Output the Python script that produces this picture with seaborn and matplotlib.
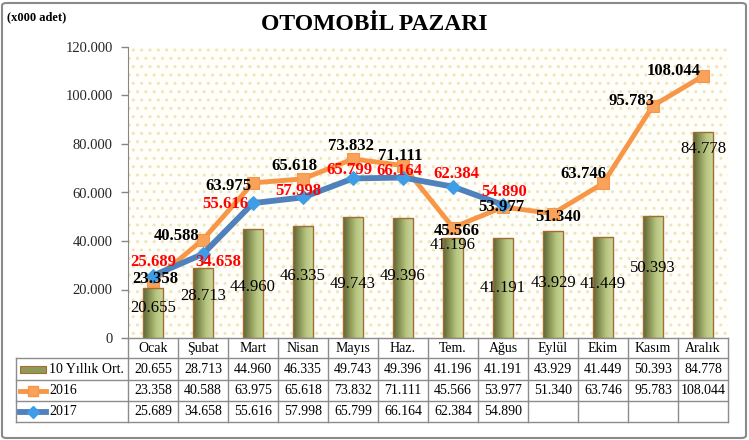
import numpy as np
import matplotlib
matplotlib.use("Agg")
import matplotlib.pyplot as plt
import matplotlib.transforms as mtransforms
import seaborn as sns
from matplotlib.patches import Rectangle, FancyBboxPatch
from matplotlib.lines import Line2D
from matplotlib.colors import LinearSegmentedColormap

# ---------------- data ----------------
months = ["Ocak", "Şubat", "Mart", "Nisan", "Mayıs", "Haz.", "Tem.", "Ağus",
          "Eylül", "Ekim", "Kasım", "Aralık"]
avg10 = [20.655, 28.713, 44.960, 46.335, 49.743, 49.396, 41.196, 41.191,
         43.929, 41.449, 50.393, 84.778]
y2016 = [23.358, 40.588, 63.975, 65.618, 73.832, 71.111, 45.566, 53.977,
         51.340, 63.746, 95.783, 108.044]
y2017 = [25.689, 34.658, 55.616, 57.998, 65.799, 66.164, 62.384, 54.890]
series_names = ["10 Yıllık Ort.", "2016", "2017"]
yticks = [0, 20, 40, 60, 80, 100, 120]
title = "OTOMOBİL PAZARI"
unit_label = "(x000 adet)"

# label placement (pixel offsets / fractions) - styling only
bar_label_frac = [0.6, 0.6, 0.47, 0.55, 0.45, 0.52, 0.93, 0.5, 0.52, 0.54, 0.57, 0.92]
off2016 = [(2, 2), (-26, 4), (-25, -3), (-9, 13), (-2, 13), (-3, 10), (4, -3), (-2, 0),
           (5, -3), (-20, 9), (-21, 5), (-29, 5)]
off2017 = [(0, 14), (15, -8), (-28, -1), (-5, 6), (-4, 8), (-4, 7), (3, 13), (1, 13)]

def fmt(v):
    return "0" if v == 0 else f"{v:.3f}"

W, H = 749, 440
plt.rcParams["font.family"] = ["Liberation Serif", "DejaVu Serif"]
plt.rcParams["hatch.linewidth"] = 1.0
fig = plt.figure(figsize=(W / 100, H / 100), dpi=100)
fig.patch.set_facecolor("white")

def fy(py):
    return (H - py) / H

x_left, x_right, y_top, y_bot = 128, 728, 47, 338
ax = fig.add_axes([x_left / W, fy(y_bot), (x_right - x_left) / W, (y_bot - y_top) / H])
ax.set_facecolor("#fffef9")
ax.add_patch(Rectangle((0, 0), 1, 1, transform=ax.transAxes, hatch="..",
                       fill=False, edgecolor="#ece5bd", lw=0, zorder=0))

# bars
sns.barplot(x=months, y=avg10, order=months, width=0.4, color="#9aa563",
            edgecolor="#a36d30", linewidth=1.0, ax=ax, zorder=2)
cmap = LinearSegmentedColormap.from_list("olive", ["#5c6236", "#8a9556", "#b6c680", "#c9d69a"])
grad = np.linspace(0, 1, 64).reshape(1, -1)
for p in list(ax.patches):
    if not isinstance(p, Rectangle) or p.get_height() <= 0 or p.get_width() >= 1:
        continue
    x0, y0 = p.get_x(), p.get_y()
    im = ax.imshow(grad, extent=[x0, x0 + p.get_width(), y0, y0 + p.get_height()],
                   cmap=cmap, aspect="auto", zorder=2.1, interpolation="bilinear")
    im.set_clip_path(p)
    p.set_facecolor("none")
    p.set_zorder(2.2)

xs16 = np.arange(len(y2016))
xs17 = np.arange(len(y2017))
sns.lineplot(x=xs16, y=y2016, color="#f79646", lw=3.5, marker="s", markersize=8,
             markerfacecolor="#f9a25c", markeredgecolor="#f79646", sort=False, ax=ax, zorder=3)
sns.lineplot(x=xs17, y=y2017, color="#4f81bd", lw=4.2, marker="D", markersize=7,
             markerfacecolor="#3f9ce6", markeredgecolor="#3f9ce6", sort=False, ax=ax, zorder=4)

ax.set_xlim(-0.5, len(months) - 0.5)
ax.set_ylim(0, 120)
ax.set_yticks(yticks)
ax.set_yticklabels([fmt(t) for t in yticks], fontsize=10.5, color="#262626")
ax.set_xticks([])
ax.set_xlabel("")
ax.set_ylabel("")
for s in ["top", "right", "bottom"]:
    ax.spines[s].set_visible(False)
ax.spines["left"].set_color("#868686")
ax.tick_params(axis="y", direction="out", length=5, width=1, color="#868686", pad=6)
ax.grid(False)

# data labels
for i, v in enumerate(avg10):
    ax.text(i, v * bar_label_frac[i], fmt(v), ha="center", va="center",
            fontsize=12, color="black", zorder=6)
for i, v in enumerate(y2016):
    dx, dy = off2016[i]
    ax.annotate(fmt(v), (i, v), xytext=(dx, dy), textcoords="offset pixels",
                ha="center", va="center", fontsize=12, fontweight="bold",
                color="black", zorder=7)
for i, v in enumerate(y2017):
    dx, dy = off2017[i]
    ax.annotate(fmt(v), (i, v), xytext=(dx, dy), textcoords="offset pixels",
                ha="center", va="center", fontsize=12, fontweight="bold",
                color="#ff0000", zorder=7)

# ---------------- data table (drawn below the axes) ----------------
t_left = 16
row_edges = [338, 358, 380, 401, 422]
grid_col = "#8c8c8c"
blend = mtransforms.blended_transform_factory(ax.transData, fig.transFigure)
n = len(months)
xl, xr = -0.5, n - 0.5
# horizontal lines
fig.add_artist(Line2D([xl, xr], [fy(row_edges[0])] * 2, transform=blend, color=grid_col, lw=1))
for ry in row_edges[1:]:
    fig.add_artist(Line2D([t_left / W, x_right / W], [fy(ry)] * 2,
                          transform=fig.transFigure, color=grid_col, lw=1))
# vertical lines
fig.add_artist(Line2D([t_left / W] * 2, [fy(row_edges[1]), fy(row_edges[-1])],
                      transform=fig.transFigure, color=grid_col, lw=1))
for k in range(n + 1):
    fig.add_artist(Line2D([k - 0.5] * 2, [fy(row_edges[0]), fy(row_edges[-1])],
                          transform=blend, color=grid_col, lw=1))
# header
hy = (row_edges[0] + row_edges[1]) / 2
for i, m in enumerate(months):
    fig.text(i, fy(hy), m, transform=blend, ha="center", va="center", fontsize=10)
# rows
for r, vals in enumerate([avg10, y2016, y2017]):
    cy = (row_edges[r + 1] + row_edges[r + 2]) / 2
    fig.text(49 / W, fy(cy), series_names[r], ha="left", va="center", fontsize=10)
    for i, v in enumerate(vals):
        fig.text(i, fy(cy), fmt(v), transform=blend, ha="center", va="center", fontsize=10)

# legend keys in the row labels
cy = (row_edges[1] + row_edges[2]) / 2
fig.add_artist(Rectangle((20 / W, fy(cy + 3.5)), 26 / W, 7 / H, transform=fig.transFigure,
                         facecolor="#8f9a5a", edgecolor="#a36d30", lw=0.8))
cy = (row_edges[2] + row_edges[3]) / 2
fig.add_artist(Line2D([20 / W, 46 / W], [fy(cy), fy(cy)], transform=fig.transFigure,
                      color="#f79646", lw=3.5))
fig.add_artist(Line2D([33 / W], [fy(cy)], transform=fig.transFigure, marker="s",
                      markersize=7, color="#f9a25c", markeredgecolor="#f79646"))
cy = (row_edges[3] + row_edges[4]) / 2
fig.add_artist(Line2D([20 / W, 46 / W], [fy(cy), fy(cy)], transform=fig.transFigure,
                      color="#4f81bd", lw=4.2))
fig.add_artist(Line2D([33 / W], [fy(cy)], transform=fig.transFigure, marker="D",
                      markersize=6, color="#3f9ce6", markeredgecolor="#3f9ce6"))

# titles
fig.text(374 / W, fy(24), title, ha="center", va="center", fontsize=17, fontweight="bold")
fig.text(7 / W, fy(17), unit_label, ha="left", va="center", fontsize=9, fontweight="bold")

# outer border
fig.add_artist(FancyBboxPatch((2 / W, 2 / H), (W - 5) / W, (H - 5) / H,
                              boxstyle="round,pad=0,rounding_size=0.006",
                              transform=fig.transFigure, fill=False,
                              edgecolor="#8a8a8a", lw=1.5))

fig.savefig("out.png", dpi=100)
